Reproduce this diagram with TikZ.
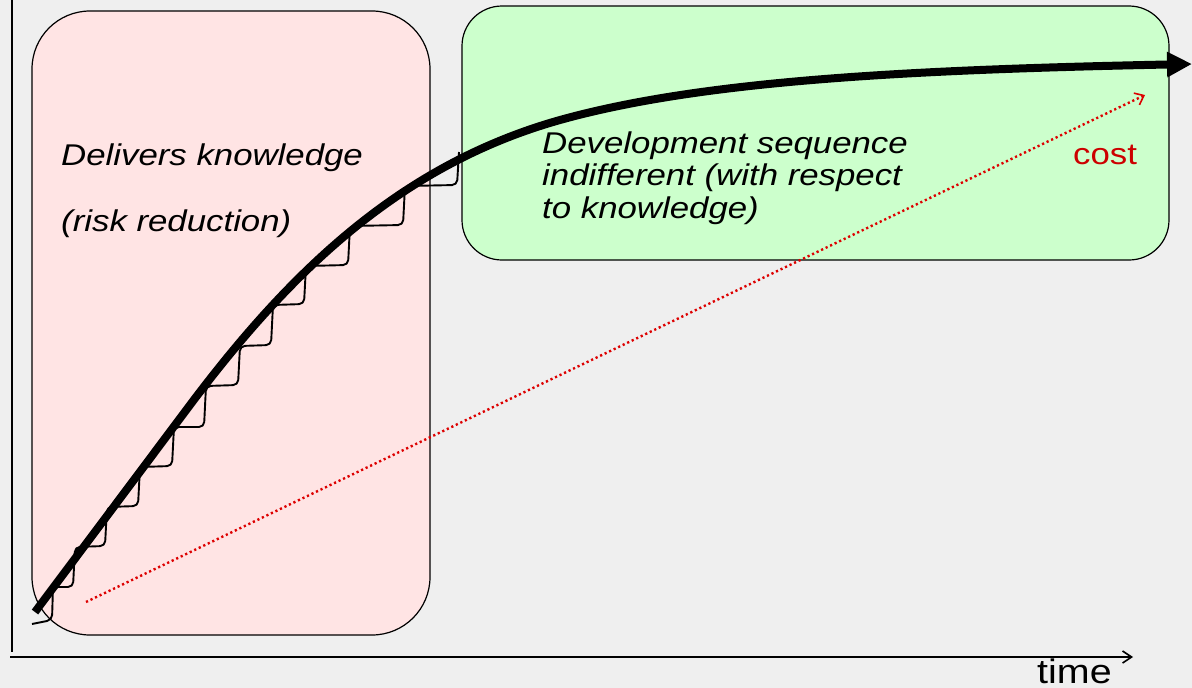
\documentclass[tikz,border=0pt]{standalone}
\usepackage{fontspec}
\setmainfont{Liberation Sans}
\newfontfamily\widesans[FakeStretch=1.16]{Liberation Sans}
\usetikzlibrary{arrows.meta}
\definecolor{bg}{HTML}{EFEFEF}
\definecolor{riskfill}{HTML}{FFE4E4}
\definecolor{seqfill}{HTML}{CCFFCC}
\definecolor{costred}{HTML}{CC0000}
\definecolor{dotred}{HTML}{DD0000}
\begin{document}
\begin{tikzpicture}[x=1pt,y=-1pt,
  panel/.style={draw=black, line width=1.2pt, inner sep=0pt},
  axis/.style={draw=black, line width=1.8pt},
  stair/.style={draw=black, line width=1.9pt, rounded corners=5pt},
  knowledge/.style={draw=black, line width=8pt, -{Triangle[length=25pt,width=24pt]}},
  costline/.style={draw=dotred, line width=2.4pt, dash pattern=on 2.2pt off 2.8pt,
    -{Straight Barb[length=8pt,width=13pt,line width=1.6pt]}},
  label/.style={anchor=base west, inner sep=0pt, align=left,
    font=\widesans\itshape\fontsize{30}{32.5}\selectfont}]
% background and page size
\fill[bg] (0,0) rectangle (1192,688);
\useasboundingbox (0,0) rectangle (1192,688);

% the two phases
\node[panel, fill=riskfill, rounded corners=58pt, minimum width=398pt, minimum height=624pt]
  (riskbox) at (231,323) {};
\node[panel, fill=seqfill, rounded corners=40pt, minimum width=707pt, minimum height=254pt]
  (seqbox) at (815.5,133) {};

% axes
\coordinate (ytop) at (12,0);
\coordinate (ybot) at (12,652);
\coordinate (xleft) at (10,657);
\coordinate (xright) at (1133,657);
\draw[axis] (ytop) -- (ybot);
\draw[axis, -{Straight Barb[length=9pt,width=12pt,line width=1.6pt]}] (xleft) -- (xright);

% increments: staircase under the knowledge curve
\draw[stair] (32,624) -- (52,620) -- (53,587) -- (73,587) -- (75,547) -- (105,546)
  -- (107,507) -- (138,506) -- (140,467) -- (172,466) -- (174,427) -- (204,427)
  -- (206,386) -- (238,385) -- (240,346) -- (271,345) -- (273,305) -- (304,304)
  -- (306,266) -- (348,265) -- (350,226) -- (403,225) -- (405,186) -- (457,185)
  -- (459,152);

% knowledge curve
\coordinate (k0) at (35,612);
\coordinate (k1) at (190,405);
\coordinate (k2) at (560,120);
\coordinate (k3) at (1192,64);
\draw[knowledge] (k0) -- (k1) .. controls (290,272) and (400,165) .. (k2)
  .. controls (700,81) and (900,70) .. (k3);

% cost line
\coordinate (c0) at (86,602);
\coordinate (c1) at (1145,95);
\draw[costline] (c0) -- (c1);

% texts (a multi-line node sits on the baseline of its last line)
\node[label] (deliv) at (61,165) {Delivers knowledge};
\node[label] (riskred) at (61,231) {(risk reduction)};
\node[label] (seqtext) at (542,218) {Development sequence\\indifferent (with respect\\to knowledge)};
\node[anchor=base west, inner sep=0pt, text=costred, font=\widesans\fontsize{30}{33}\selectfont]
  (cost) at (1073,164) {cost};
\node[anchor=base west, inner sep=0pt, font=\widesans\fontsize{34}{36}\selectfont]
  (time) at (1037,683) {time};
\end{tikzpicture}
\end{document}
